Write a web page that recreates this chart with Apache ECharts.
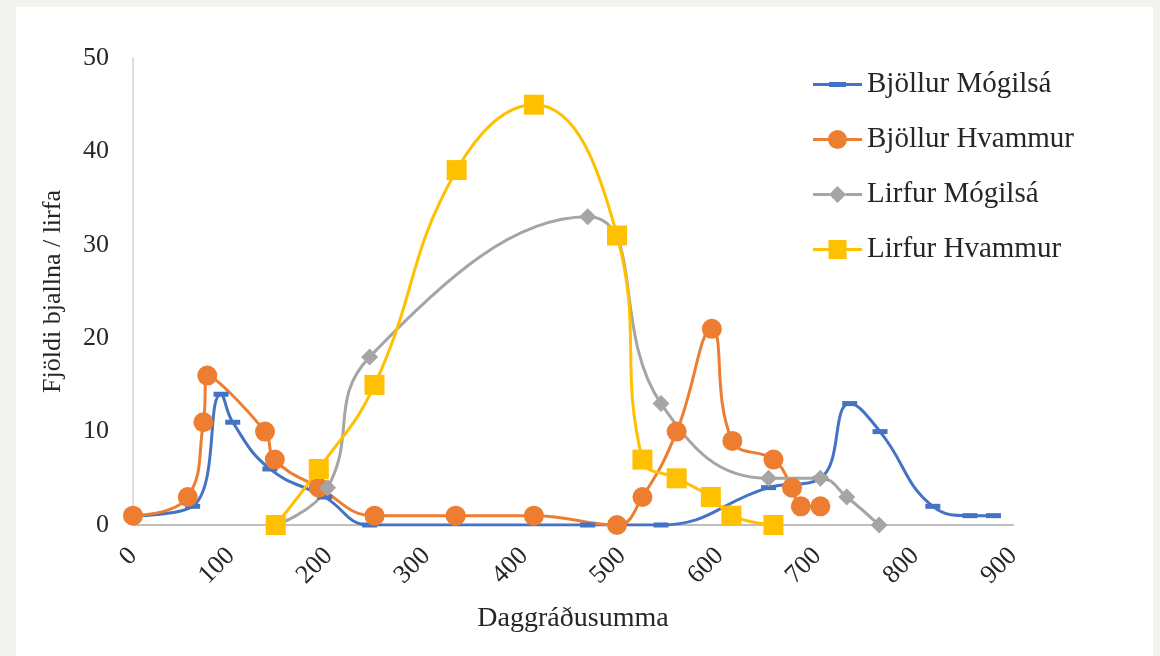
<!DOCTYPE html>
<html>
<head>
<meta charset="utf-8">
<script src="https://cdn.jsdelivr.net/npm/echarts@6/dist/echarts.min.js"></script>
<style>
html,body{margin:0;padding:0;background:#f2f2ee;}
#chart{width:1160px;height:656px;}
</style>
</head>
<body>
<div id="chart"></div>
<script>
// Data
const xTicks = [0, 100, 200, 300, 400, 500, 600, 700, 800, 900];
const yTicks = [0, 10, 20, 30, 40, 50];

const seriesNames = ['Bjöllur Mógilsá', 'Bjöllur Hvammur', 'Lirfur Mógilsá', 'Lirfur Hvammur'];

const bjMogX = [0, 61, 90, 102, 140, 196, 242, 465, 540, 650, 703, 733, 764, 818, 856, 880];
const bjMogY = [1, 2, 14, 11, 6, 3, 0, 0, 0, 4, 5, 13, 10, 2, 1, 1];

const bjHvaX = [0, 56, 72, 76, 135, 145, 190, 247, 330, 410, 495, 521, 556, 592, 613, 655, 674, 683, 703];
const bjHvaY = [1, 3, 11, 16, 10, 7, 4, 1, 1, 1, 0, 3, 10, 21, 9, 7, 4, 2, 2];

const lMogX = [146, 199, 242, 465, 540, 650, 703, 730, 763];
const lMogY = [0, 4, 18, 33, 13, 5, 5, 3, 0];

const lHvaX = [146, 190, 247, 331, 410, 495, 521, 556, 591, 612, 655];
const lHvaY = [0, 6, 15, 38, 45, 31, 7, 5, 3, 1, 0];

const colors = ['#4472C4', '#ED7D31', '#A5A5A5', '#FFC000'];

function pairs(xs, ys) { return xs.map((x, i) => [x, ys[i]]); }

const corners = 'M0,0 L0.01,0 L0,0.01 Z M49,20 L48.99,20 L49,19.99 Z ';
const legendIcons = [
  'path://' + corners + 'M0,8.5 H49 V11.5 H0 Z M16,7.5 H33 V12.5 H16 Z',
  'path://' + corners + 'M0,8.5 H15.5 V11.5 H0 Z M33.5,8.5 H49 V11.5 H33.5 Z M15,10 A9.5,9.5 0 1,1 34,10 A9.5,9.5 0 1,1 15,10 Z',
  'path://' + corners + 'M0,8.5 H16.5 V11.5 H0 Z M32.5,8.5 H49 V11.5 H32.5 Z M24.5,1.5 L33,10 L24.5,18.5 L16,10 Z',
  'path://' + corners + 'M0,8.5 H15.5 V11.5 H0 Z M33.5,8.5 H49 V11.5 H33.5 Z M15.5,0.5 H33.5 V19.5 H15.5 Z'
];

const symbols = ['rect', 'circle', 'diamond', 'rect'];
const symbolSizes = [[15, 5], 20, [17, 17], 20];
const dataSets = [pairs(bjMogX, bjMogY), pairs(bjHvaX, bjHvaY), pairs(lMogX, lMogY), pairs(lHvaX, lHvaY)];

const serif = '"Liberation Serif", "DejaVu Serif", serif';
const textColor = '#262626';

const chart = echarts.init(document.getElementById('chart'), null, {renderer: 'canvas'});

const option = {
  backgroundColor: '#f2f2ee',
  animation: false,
  graphic: [{
    type: 'rect', z: -10, silent: true,
    shape: {x: 16, y: 7, width: 1137, height: 649},
    style: {fill: '#ffffff'}
  }],
  grid: {left: 133, right: 147, top: 58, bottom: 131, containLabel: false},
  legend: {
    orient: 'vertical',
    left: 813, top: 70,
    padding: 0,
    itemWidth: 49, itemHeight: 20,
    itemGap: 26,
    textStyle: {fontFamily: serif, fontSize: 29, color: textColor},
    data: seriesNames.map((n, i) => ({name: n, icon: legendIcons[i], itemStyle: {color: colors[i]}}))
  },
  xAxis: {
    type: 'value', min: xTicks[0], max: xTicks[xTicks.length - 1], interval: 100,
    name: 'Daggráðusumma', nameLocation: 'middle', nameGap: 80,
    nameTextStyle: {fontFamily: serif, fontSize: 28, color: textColor},
    axisLine: {show: true, onZero: false, lineStyle: {color: '#BFBFBF', width: 2}},
    axisTick: {show: false},
    splitLine: {show: false},
    axisLabel: {rotate: 45, margin: 27, fontFamily: serif, fontSize: 26, color: textColor}
  },
  yAxis: {
    type: 'value', min: yTicks[0], max: yTicks[yTicks.length - 1], interval: 10,
    name: 'Fjöldi bjallna / lirfa', nameLocation: 'middle', nameGap: 67, nameRotate: 90,
    nameTextStyle: {fontFamily: serif, fontSize: 26, color: textColor},
    axisLine: {show: true, lineStyle: {color: '#D0D0D0', width: 1.5}},
    axisTick: {show: false},
    splitLine: {show: false},
    axisLabel: {margin: 24, fontFamily: serif, fontSize: 26, color: textColor}
  },
  series: seriesNames.map((n, i) => ({
    name: n,
    type: 'line',
    smooth: 0.45,
    data: dataSets[i],
    symbol: symbols[i],
    symbolSize: symbolSizes[i],
    showAllSymbol: true,
    color: colors[i],
    lineStyle: {color: colors[i], width: 3},
    itemStyle: {color: colors[i], borderWidth: 0},
    emphasis: {disabled: true}
  }))
};

chart.setOption(option);
</script>
</body>
</html>
